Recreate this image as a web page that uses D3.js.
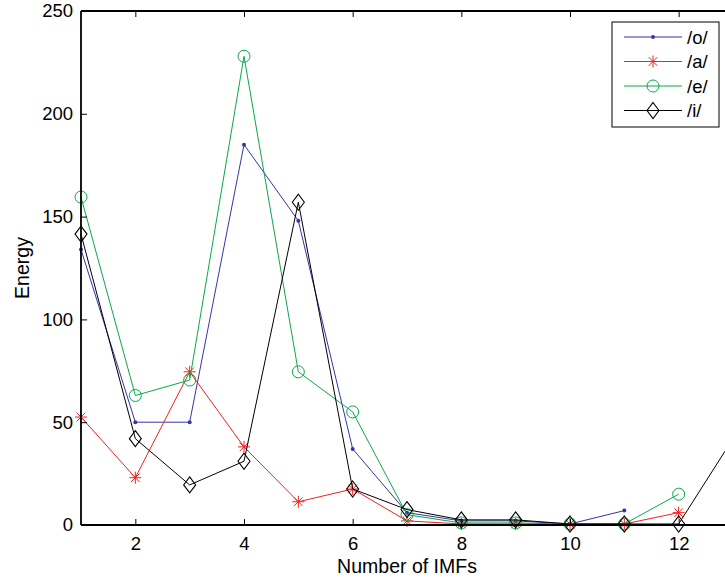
<!DOCTYPE html>
<html><head><meta charset="utf-8">
<script src="https://cdn.jsdelivr.net/npm/d3@7"></script>
<style>body{margin:0;background:#fff;} svg{display:block;}</style>
</head><body>
<script>
const imfs = [1,2,3,4,5,6,7,8,9,10,11,12,13];
const oVals = [134, 50, 50, 185, 148, 37, 6, 2, 2, 0.5, 7, null, null];
const aVals = [52.5, 23, 74.5, 38, 11.3, 17.5, 2, 0.5, 0.5, 0.5, 0.5, 6, null];
const eVals = [159.5, 63, 70.5, 228, 74.5, 55, 5, 1, 1, 0.5, 0.5, 15, null];
const iVals = [141.5, 42, 19.5, 31, 157, 17.5, 7.5, 2.5, 2.5, 0.5, 0.5, 0.5, 42];
const xTicks = [2,4,6,8,10,12];
const yTicks = [0,50,100,150,200,250];
const seriesNames = ["/o/", "/a/", "/e/", "/i/"];

const W = 725, H = 580;
const svg = d3.select("body").append("svg").attr("width", W).attr("height", H);
const x = d3.scaleLinear().domain([1,13]).range([81, 733]);
const y = d3.scaleLinear().domain([0,250]).range([525, 11]);
const font = "'Liberation Sans', Arial, Helvetica, sans-serif";

const series = [
  {name: seriesNames[0], vals: oVals, color: "#3535a5", marker: "dot"},
  {name: seriesNames[1], vals: aVals, color: "#f02020", marker: "star"},
  {name: seriesNames[2], vals: eVals, color: "#0aa84a", marker: "circle"},
  {name: seriesNames[3], vals: iVals, color: "#000000", marker: "diamond"}
];

function drawMarker(g, type, cx, cy, color) {
  if (type === "dot") {
    g.append("circle").attr("cx", cx).attr("cy", cy).attr("r", 2).attr("fill", color);
  } else if (type === "circle") {
    g.append("circle").attr("cx", cx).attr("cy", cy).attr("r", 6).attr("fill", "none").attr("stroke", color).attr("stroke-width", 1);
  } else if (type === "diamond") {
    g.append("path").attr("d", `M${cx},${cy-8}L${cx+6},${cy}L${cx},${cy+8}L${cx-6},${cy}Z`).attr("fill", "none").attr("stroke", color).attr("stroke-width", 1.1);
  } else if (type === "star") {
    const r = 6, d = 4.3;
    g.append("path").attr("d", `M${cx-r},${cy}L${cx+r},${cy}M${cx},${cy-r}L${cx},${cy+r}M${cx-d},${cy-d}L${cx+d},${cy+d}M${cx-d},${cy+d}L${cx+d},${cy-d}`)
      .attr("stroke", color).attr("stroke-width", 1).attr("fill", "none");
  }
}

// data
const plot = svg.append("g");
series.forEach(s => {
  const pts = imfs.map((v, i) => [v, s.vals[i]]).filter(p => p[1] !== null);
  const line = d3.line().x(p => x(p[0])).y(p => y(p[1]));
  plot.append("path").attr("d", line(pts)).attr("fill", "none").attr("stroke", s.color).attr("stroke-width", 1);
  pts.forEach(p => drawMarker(plot, s.marker, x(p[0]), y(p[1]), s.color));
});

// axes
const ax = svg.append("g");
const axBottom = ax.append("g").attr("transform", "translate(0,525)")
  .call(d3.axisBottom(x).tickValues(xTicks).tickSize(-6).tickPadding(12).tickFormat(d3.format("d")));
const axTop = ax.append("g").attr("transform", "translate(0,11)")
  .call(d3.axisTop(x).tickValues(xTicks).tickSize(-6).tickFormat(""));
const axLeft = ax.append("g").attr("transform", "translate(81,0)")
  .call(d3.axisLeft(y).tickValues(yTicks).tickSize(-6).tickPadding(8).tickFormat(d3.format("d")));
[axBottom, axTop, axLeft].forEach(g => {
  g.select(".domain").remove();
  g.selectAll(".tick line").attr("stroke", "#000").attr("stroke-width", 1);
  g.selectAll("text").attr("font-family", font).attr("font-size", 18.5).attr("fill", "#000");
});
ax.append("line").attr("x1", 81).attr("x2", 733).attr("y1", 525).attr("y2", 525).attr("stroke", "#000").attr("stroke-width", 1.8);
ax.append("line").attr("x1", 81).attr("x2", 733).attr("y1", 11).attr("y2", 11).attr("stroke", "#000").attr("stroke-width", 1.8);
ax.append("line").attr("x1", 81).attr("x2", 81).attr("y1", 11).attr("y2", 525).attr("stroke", "#000").attr("stroke-width", 1.8);

svg.append("text").attr("x", 407).attr("y", 573).attr("text-anchor", "middle")
  .attr("font-family", font).attr("font-size", 19.5).text("Number of IMFs");
svg.append("text").attr("transform", "translate(29,268) rotate(-90)").attr("text-anchor", "middle")
  .attr("font-family", font).attr("font-size", 19.5).text("Energy");

// legend
const lg = svg.append("g");
lg.append("rect").attr("x", 612).attr("y", 22).attr("width", 107).attr("height", 105)
  .attr("fill", "#fff").attr("stroke", "#000").attr("stroke-width", 1);
series.forEach((s, i) => {
  const ly = 37 + i * 24.5;
  lg.append("line").attr("x1", 624).attr("x2", 682).attr("y1", ly).attr("y2", ly).attr("stroke", s.color).attr("stroke-width", 1);
  drawMarker(lg, s.marker, 653, ly, s.color);
  lg.append("text").attr("x", 687).attr("y", ly + 6.5).attr("font-family", font).attr("font-size", 18.5).text(s.name);
});
</script>
</body></html>
